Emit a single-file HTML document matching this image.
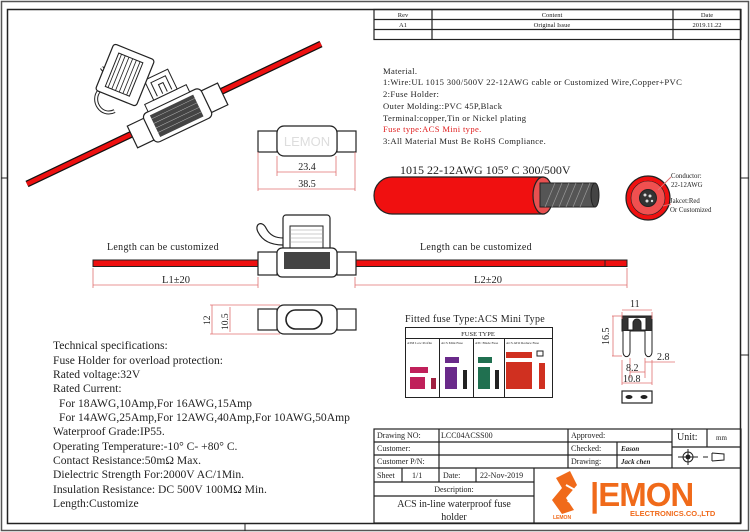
<!DOCTYPE html>
<html><head><meta charset="utf-8"><style>
html,body{margin:0;padding:0;background:#fff;}
svg{display:block;}
text{font-family:"Liberation Serif",serif;fill:#222;}
</style></head><body>
<svg width="750" height="532" viewBox="0 0 750 532" xmlns="http://www.w3.org/2000/svg">
<rect x="1.5" y="1.5" width="747" height="529" fill="none" stroke="#555" stroke-width="1.5"/>
<rect x="7.5" y="9.5" width="733" height="514" fill="none" stroke="#222" stroke-width="1.5"/>
<line x1="1" y1="178" x2="7" y2="178" stroke="#222"/>
<line x1="741" y1="178" x2="749" y2="178" stroke="#222"/>
<line x1="741" y1="355" x2="749" y2="355" stroke="#222"/>
<line x1="245" y1="523" x2="245" y2="531" stroke="#222"/>

<g stroke="#222" stroke-width="1.2" fill="none">
<rect x="374" y="9.5" width="367" height="30"/>
<line x1="374" y1="19.5" x2="741" y2="19.5"/>
<line x1="374" y1="29.5" x2="741" y2="29.5"/>
<line x1="432" y1="9.5" x2="432" y2="39.5"/>
<line x1="673" y1="9.5" x2="673" y2="39.5"/>
</g>
<g font-size="6.5" text-anchor="middle">
<text x="403" y="17">Rev</text><text x="552" y="17">Content</text><text x="707" y="17">Date</text>
<text x="403" y="27">A1</text><text x="552" y="27">Original Issue</text><text x="707" y="27">2019.11.22</text>
</g>

<g font-size="8.6" letter-spacing="0.35">
<text x="383" y="74">Material.</text>
<text x="383" y="85">1:Wire:UL 1015 300/500V 22-12AWG cable or Customized Wire,Copper+PVC</text>
<text x="383" y="97">2:Fuse Holder:</text>
<text x="383" y="109">Outer Molding::PVC 45P,Black</text>
<text x="383" y="121">Terminal:copper,Tin or Nickel plating</text>
<text x="383" y="132" style="fill:#e02020">Fuse type:ACS Mini type.</text>
<text x="383" y="144">3:All Material Must Be RoHS Compliance.</text>
</g>

<text x="400" y="174" font-size="12">1015 22-12AWG 105° C 300/500V</text>
<path d="M392 177 H543 V214 H392 A18 18.5 0 0 1 392 177Z" fill="#f01010" stroke="#222" stroke-width="1.2"/>
<ellipse cx="543" cy="195.5" rx="10" ry="18.5" fill="#e85050" stroke="#222" stroke-width="1.2"/>
<rect x="540" y="183" width="55" height="24" fill="#555" stroke="#222"/>
<ellipse cx="595" cy="195" rx="4" ry="12" fill="#444" stroke="#222"/>
<g stroke="#999" stroke-width="0.7">
<line x1="545" y1="207" x2="555" y2="183"/><line x1="552" y1="207" x2="562" y2="183"/><line x1="559" y1="207" x2="569" y2="183"/><line x1="566" y1="207" x2="576" y2="183"/><line x1="573" y1="207" x2="583" y2="183"/><line x1="580" y1="207" x2="590" y2="183"/>
</g>
<circle cx="648" cy="198" r="22" fill="#f01010" stroke="#222" stroke-width="1.2"/>
<circle cx="648" cy="198" r="17" fill="#f05050" stroke="#222" stroke-width="0.6"/>
<circle cx="648" cy="198" r="8.5" fill="#333" stroke="#222"/>
<g fill="#ddd"><circle cx="645" cy="195" r="1.5"/><circle cx="650" cy="196" r="1.5"/><circle cx="647" cy="201" r="1.5"/><circle cx="652" cy="201" r="1.2"/></g>
<line x1="658" y1="190" x2="671" y2="177" stroke="#e07070"/>
<line x1="663" y1="206" x2="671" y2="204" stroke="#e07070"/>
<g font-size="6.8"><text x="671" y="178">Conductor:</text><text x="671" y="187">22-12AWG</text><text x="670" y="203">Jakcet:Red</text><text x="670" y="212">Or Customized</text></g>

<line x1="27" y1="184" x2="321" y2="44" stroke="#111" stroke-width="7"/>
<line x1="27" y1="184" x2="321" y2="44" stroke="#ee1010" stroke-width="4.5"/>
<g transform="translate(175,110) rotate(-25.5)">
<path d="M-55 -25 C-70 -25 -72 -45 -60 -50 C-50 -55 -45 -60 -48 -70" fill="none" stroke="#222" stroke-width="4"/>
<path d="M-55 -25 C-70 -25 -72 -45 -60 -50 C-50 -55 -45 -60 -48 -70" fill="none" stroke="#fff" stroke-width="2"/>
<rect x="-50" y="-6" width="20" height="24" fill="#fff" stroke="#222" stroke-width="1.2"/>
<rect x="30" y="-6" width="20" height="24" fill="#fff" stroke="#222" stroke-width="1.2"/>
<rect x="-32" y="-10" width="64" height="32" rx="5" fill="#fff" stroke="#222" stroke-width="1.2"/>
<rect x="-25" y="-6" width="48" height="24" fill="#444"/>
<g stroke="#bbb" stroke-width="0.5"><line x1="-25" y1="-2" x2="23" y2="-2"/><line x1="-25" y1="3" x2="23" y2="3"/><line x1="-25" y1="8" x2="23" y2="8"/><line x1="-25" y1="13" x2="23" y2="13"/></g>
<rect x="-25" y="-18" width="46" height="8" fill="#fff" stroke="#222"/>
<rect x="-15" y="-40" width="26" height="22" fill="#fff" stroke="#222"/>
<path d="M-10 -20 V-35 H6 V-20 M-4 -20 V-30 H1 V-20" fill="none" stroke="#222"/>
</g>
<g transform="translate(125,75) rotate(22)">
<rect x="-22" y="-25" width="44" height="50" rx="3" fill="#fff" stroke="#222" stroke-width="1.2"/>
<rect x="-14" y="-18" width="26" height="36" fill="#fff" stroke="#222"/>
<g stroke="#222" stroke-width="0.8"><line x1="-11" y1="-18" x2="-11" y2="18"/><line x1="-7" y1="-18" x2="-7" y2="18"/><line x1="-3" y1="-18" x2="-3" y2="18"/><line x1="1" y1="-18" x2="1" y2="18"/><line x1="5" y1="-18" x2="5" y2="18"/><line x1="9" y1="-18" x2="9" y2="18"/></g>
</g>

<g stroke="#222" stroke-width="1.2" fill="#fff">
<rect x="258" y="131" width="19" height="21"/>
<rect x="337" y="131" width="19" height="21"/>
<rect x="277" y="126" width="60" height="30" rx="7"/>
</g>
<text x="307" y="146" font-size="13" text-anchor="middle" style="fill:#ddd;font-family:'Liberation Sans',sans-serif">LEMON</text>
<g stroke="#e07070" stroke-width="0.8">
<line x1="277" y1="156" x2="277" y2="176"/><line x1="336" y1="156" x2="336" y2="176"/>
<line x1="277" y1="172" x2="336" y2="172"/>
<line x1="258" y1="152" x2="258" y2="191"/><line x1="355" y1="152" x2="355" y2="191"/>
<line x1="258" y1="189" x2="355" y2="189"/>
</g>
<g font-size="10" text-anchor="middle"><text x="307" y="170">23.4</text><text x="307" y="187">38.5</text></g>

<text x="107" y="250" font-size="10" letter-spacing="0.3">Length can be customized</text>
<text x="420" y="250" font-size="10" letter-spacing="0.3">Length can be customized</text>
<rect x="93" y="260" width="534" height="6.5" fill="#ee1010" stroke="#222" stroke-width="1"/>
<line x1="605" y1="260" x2="605" y2="266" stroke="#222"/>
<path d="M283 245 C270 245 262 240 258 232 C254 224 262 220 266 228 C270 236 276 238 284 238" fill="none" stroke="#222" stroke-width="1.2"/>
<rect x="283" y="215" width="47" height="36" rx="3" fill="#fff" stroke="#222" stroke-width="1.2"/>
<rect x="290" y="226" width="33" height="22" fill="#fff" stroke="#222"/>
<g stroke="#999" stroke-width="0.6"><line x1="290" y1="230" x2="323" y2="230"/><line x1="290" y1="234" x2="323" y2="234"/><line x1="290" y1="238" x2="323" y2="238"/><line x1="290" y1="242" x2="323" y2="242"/></g>
<rect x="258" y="252" width="19" height="23" fill="#fff" stroke="#222" stroke-width="1.2"/>
<rect x="337" y="252" width="19" height="23" fill="#fff" stroke="#222" stroke-width="1.2"/>
<rect x="277" y="248" width="60" height="29" rx="5" fill="#fff" stroke="#222" stroke-width="1.2"/>
<rect x="284" y="252" width="46" height="17" fill="#444"/>
<g stroke="#e07070" stroke-width="0.8">
<line x1="93" y1="268" x2="93" y2="288"/><line x1="258" y1="277" x2="258" y2="288"/>
<line x1="93" y1="285" x2="258" y2="285"/>
<line x1="355" y1="277" x2="355" y2="288"/><line x1="627" y1="268" x2="627" y2="288"/>
<line x1="355" y1="285" x2="627" y2="285"/>
</g>
<g font-size="10.5" text-anchor="middle"><text x="176" y="283">L1±20</text><text x="488" y="283">L2±20</text></g>

<g stroke="#222" stroke-width="1.2" fill="#fff">
<rect x="258" y="309" width="19" height="21"/>
<rect x="337" y="309" width="19" height="21"/>
<rect x="277" y="305" width="60" height="29" rx="7"/>
<rect x="286" y="310" width="36" height="19" rx="9.5" stroke-width="1.6"/>
</g>
<g stroke="#e07070" stroke-width="0.8">
<line x1="210" y1="305" x2="280" y2="305"/><line x1="210" y1="334" x2="280" y2="334"/>
<line x1="212" y1="305" x2="212" y2="334"/>
<line x1="230" y1="307" x2="230" y2="332"/>
</g>
<text transform="translate(210,325) rotate(-90)" font-size="9.5">12</text>
<text transform="translate(228,330) rotate(-90)" font-size="9.5">10.5</text>

<g font-size="11.6">
<text x="53" y="349">Technical specifications:</text>
<text x="53" y="364">Fuse Holder for overload protection:</text>
<text x="53" y="378">Rated voltage:32V</text>
<text x="53" y="392">Rated Current:</text>
<text x="59" y="407">For 18AWG,10Amp,For 16AWG,15Amp</text>
<text x="59" y="421">For 14AWG,25Amp,For 12AWG,40Amp,For 10AWG,50Amp</text>
<text x="53" y="435">Waterproof Grade:IP55.</text>
<text x="53" y="450">Operating Temperature:-10° C- +80° C.</text>
<text x="53" y="464">Contact Resistance:50mΩ Max.</text>
<text x="53" y="478">Dielectric Strength For:2000V AC/1Min.</text>
<text x="53" y="493">Insulation Resistance: DC 500V 100MΩ Min.</text>
<text x="53" y="507">Length:Customize</text>
</g>

<text x="405" y="322" font-size="10" letter-spacing="0.3">Fitted fuse Type:ACS Mini Type</text>
<g stroke="#222" stroke-width="1" fill="#fff">
<rect x="405.5" y="327.5" width="147" height="70"/>
<line x1="405" y1="338.5" x2="552" y2="338.5"/>
<line x1="439.5" y1="338" x2="439.5" y2="397"/>
<line x1="473.5" y1="338" x2="473.5" y2="397"/>
<line x1="504.5" y1="338" x2="504.5" y2="397"/>
</g>
<text x="478" y="336" font-size="6.5" text-anchor="middle">FUSE TYPE</text>
<g font-size="3.5"><text x="407" y="344">ATM Low Profile</text><text x="441" y="344">ACS Mini Fuse</text><text x="475" y="344">ATC Blade Fuse</text><text x="506" y="344">ACS ATO Reduce Fuse</text></g>
<rect x="410" y="367" width="18" height="6" fill="#c0205a"/><rect x="410" y="377" width="15" height="12" fill="#c0205a"/><rect x="431" y="378" width="5" height="11" fill="#a02040"/>
<rect x="445" y="357" width="14" height="6" fill="#6a2a8a"/><rect x="445" y="367" width="12" height="22" fill="#6a2a8a"/><rect x="463" y="370" width="4" height="19" fill="#222"/>
<rect x="478" y="357" width="14" height="6" fill="#207050"/><rect x="478" y="367" width="12" height="22" fill="#207050"/><rect x="495" y="370" width="4" height="19" fill="#222"/>
<rect x="506" y="352" width="26" height="6" fill="#d03020"/><rect x="506" y="362" width="26" height="27" fill="#d03020"/><rect x="539" y="363" width="6" height="26" fill="#d03020"/>
<rect x="537" y="351" width="6" height="5" fill="#fff" stroke="#222"/>

<rect x="622" y="316" width="30" height="15" fill="#333" stroke="#222"/>
<path d="M628 318 V330 H633 V323 A4 4 0 0 1 641 323 V330 H646 V318" fill="#fff" stroke="#222"/>
<path d="M623 331 V352 A3 4 0 0 0 630 352 V331 M645 331 V352 A3 4 0 0 0 652 352 V331" fill="#fff" stroke="#222"/>
<g stroke="#e07070" stroke-width="0.8">
<line x1="622" y1="312" x2="622" y2="319"/><line x1="652" y1="312" x2="652" y2="319"/><line x1="622" y1="310" x2="652" y2="310"/>
<line x1="612" y1="316" x2="622" y2="316"/><line x1="612" y1="356" x2="622" y2="356"/><line x1="613" y1="316" x2="613" y2="356"/>
<line x1="630" y1="358" x2="630" y2="378"/><line x1="645" y1="358" x2="645" y2="378"/><line x1="630" y1="372" x2="645" y2="372"/>
<line x1="622" y1="360" x2="622" y2="385"/><line x1="652" y1="360" x2="652" y2="385"/><line x1="622" y1="383" x2="652" y2="383"/>
<line x1="645" y1="362" x2="675" y2="362"/>
</g>
<g font-size="10"><text x="630" y="307">11</text><text transform="translate(609,345) rotate(-90)">16.5</text><text x="657" y="360">2.8</text><text x="626" y="371">8.2</text><text x="623" y="382">10.8</text></g>
<rect x="622" y="391" width="30" height="12" fill="#fff" stroke="#222" stroke-width="1.2"/>
<ellipse cx="629" cy="397" rx="3.5" ry="2" fill="#222"/><ellipse cx="644" cy="397" rx="3.5" ry="2" fill="#222"/>

<g stroke="#222" stroke-width="1.2" fill="none">
<rect x="374" y="429" width="367" height="94"/>
<line x1="374" y1="442" x2="672" y2="442"/>
<line x1="374" y1="455" x2="672" y2="455"/>
<line x1="374" y1="468" x2="741" y2="468"/>
<line x1="374" y1="482" x2="534" y2="482"/>
<line x1="374" y1="496" x2="534" y2="496"/>
<line x1="672" y1="447" x2="741" y2="447"/>
<line x1="439" y1="429" x2="439" y2="482"/>
<line x1="568" y1="429" x2="568" y2="468"/>
<line x1="617" y1="442" x2="617" y2="468"/>
<line x1="672" y1="429" x2="672" y2="468"/>
<line x1="707" y1="429" x2="707" y2="447"/>
<line x1="534" y1="468" x2="534" y2="523"/>
<line x1="402" y1="468" x2="402" y2="482"/>
<line x1="476" y1="468" x2="476" y2="482"/>
</g>
<g font-size="8">
<text x="377" y="438">Drawing NO:</text><text x="441" y="438">LCC04ACSS00</text><text x="571" y="438">Approved:</text>
<text x="377" y="451">Customer:</text><text x="571" y="451">Checked:</text>
<text x="377" y="464">Customer P/N:</text><text x="571" y="464">Drawing:</text>
<text x="377" y="478">Sheet</text><text x="412" y="478">1/1</text><text x="443" y="478">Date:</text><text x="480" y="478">22-Nov-2019</text>
<text x="454" y="492" text-anchor="middle">Description:</text>
</g>
<text x="621" y="451" font-size="7" font-style="italic" font-weight="bold">Eason</text>
<text x="621" y="464" font-size="7" font-style="italic" font-weight="bold">Jack chen</text>
<text x="677" y="440" font-size="10">Unit:</text><text x="716" y="440" font-size="7">mm</text>
<circle cx="688" cy="457" r="5" fill="none" stroke="#222"/><circle cx="688" cy="457" r="2.5" fill="#222"/>
<line x1="678" y1="457" x2="698" y2="457" stroke="#222"/><line x1="688" y1="449" x2="688" y2="465" stroke="#222"/>
<path d="M708 457 H703 M712 453 V461 M712 453 L724 454 V460 L712 461" fill="none" stroke="#222"/>
<g font-size="10" text-anchor="middle"><text x="454" y="507">ACS in-line waterproof fuse</text><text x="454" y="520">holder</text></g>
<path d="M556 478 L570 471 L577 485 L566 498 L574 510 L562 514 L552 500 L562 488Z" fill="#f06a1a"/>
<path d="M566 485 L575 490 L568 502" fill="none" stroke="#fff" stroke-width="2"/>
<text x="553" y="519" font-size="5" style="fill:#f06a1a;font-family:'Liberation Sans',sans-serif;font-weight:bold">LEMON</text>
<text x="590" y="506" font-size="33" style="fill:#f06a1a;font-family:'Liberation Sans',sans-serif;font-weight:bold;letter-spacing:-1px">|EMON</text>
<text x="630" y="516" font-size="7.5" style="fill:#f06a1a;font-family:'Liberation Sans',sans-serif;font-weight:bold">ELECTRONICS.CO.,LTD</text>
</svg>
</body></html>
